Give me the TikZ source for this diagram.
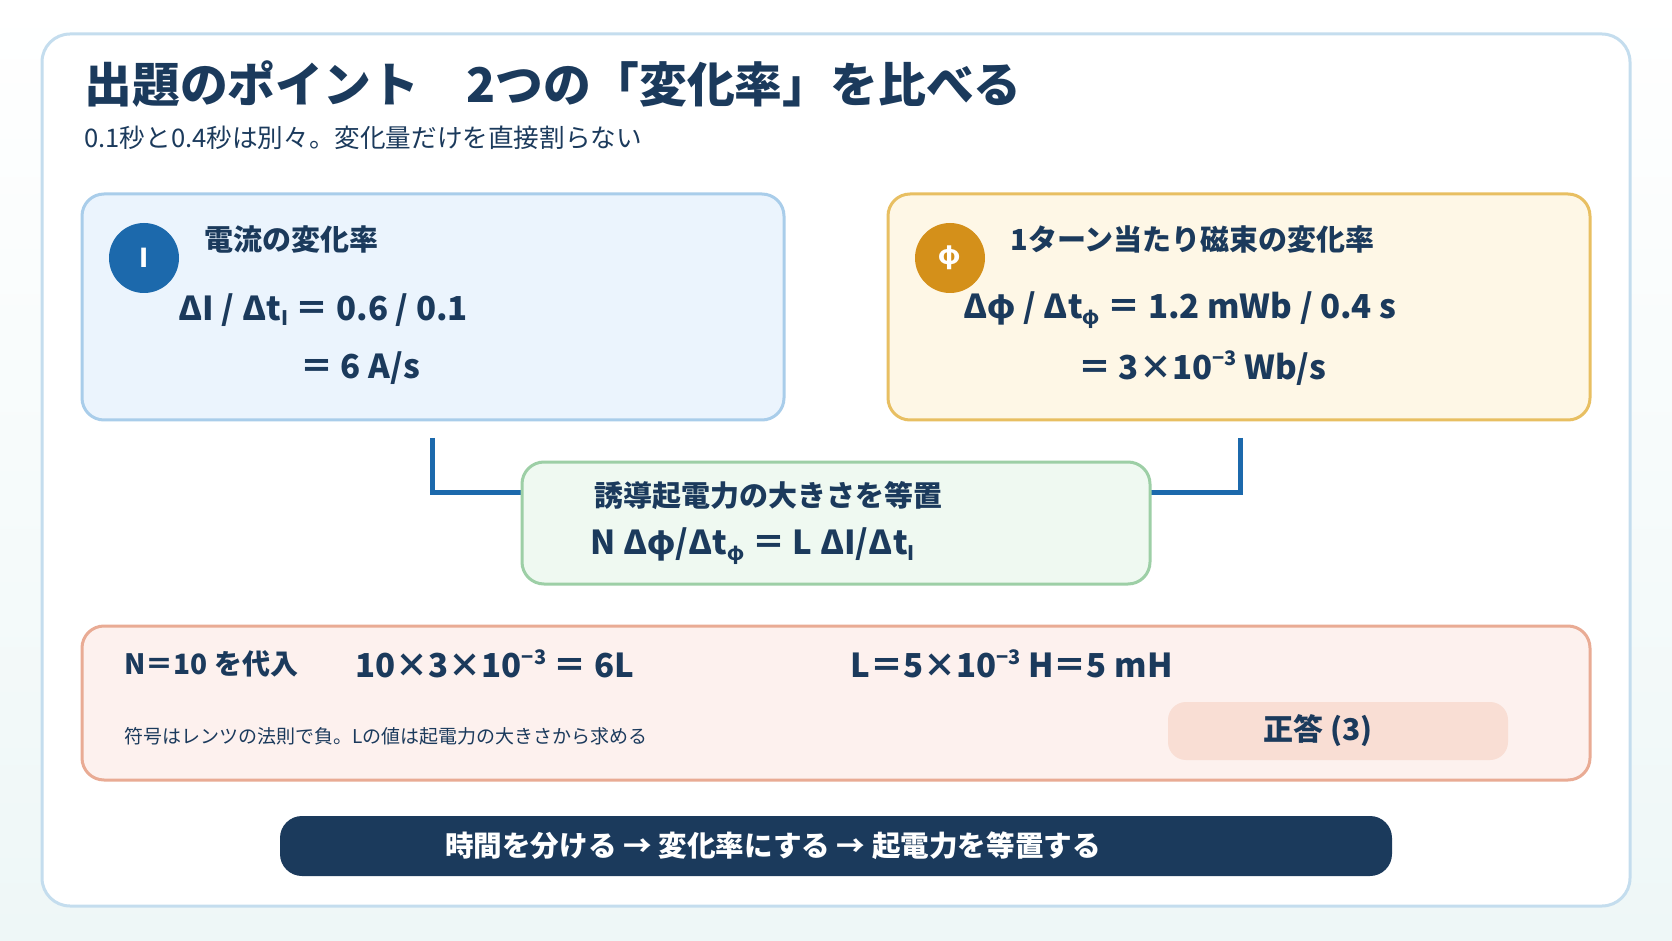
\documentclass[tikz,border=0pt]{standalone}
\usepackage{fontspec}
\setmainfont{Noto Sans CJK JP}
\usetikzlibrary{positioning}
\definecolor{navy}{HTML}{1B3A5C}
\definecolor{iblue}{HTML}{1C69AC}
\definecolor{phiorange}{HTML}{D4901A}
\definecolor{framedraw}{HTML}{C4DDEE}
\definecolor{bgbottom}{HTML}{EEF7F7}
\definecolor{idraw}{HTML}{A9CDEA}
\definecolor{ifill}{HTML}{EBF4FD}
\definecolor{pdraw}{HTML}{E8BF62}
\definecolor{pfill}{HTML}{FEF7E6}
\definecolor{edraw}{HTML}{9DCFA6}
\definecolor{efill}{HTML}{EFF9F1}
\definecolor{rdraw}{HTML}{E9AB94}
\definecolor{rfill}{HTML}{FDF1EE}
\definecolor{ansfill}{HTML}{F9DED4}
\newcommand{\lowsub}[1]{\raisebox{-0.3ex}{\fontsize{10}{10}\selectfont #1}}
\newcommand{\hisup}[1]{\raisebox{0.75ex}{\fontsize{10}{10}\selectfont #1}}
\begin{document}
\begin{tikzpicture}[x=0.5pt,y=-0.5pt,
  panel/.style={draw, line width=1.5pt, rounded corners=11pt},
  txt/.style={anchor=west, inner sep=0pt, text=navy, font=\bfseries},
  link/.style={draw=iblue, line width=2.5pt}]
\useasboundingbox (0,0) rectangle (1672,941);
\fill[top color=white, bottom color=bgbottom] (0,0) rectangle (1672,941);
\draw[panel, draw=framedraw, fill=white, rounded corners=14pt] (42,34) rectangle (1630,906);
% title
\node[txt, font=\fontsize{23.9}{28}\selectfont\bfseries] (title) at (84,84) {出題のポイント\quad 2つの「変化率」を比べる};
\node[txt, font=\fontsize{12.8}{15}\selectfont] (subtitle) at (84,138) {0.1秒と0.4秒は別々。変化量だけを直接割らない};
% current box
\draw[panel, draw=idraw, fill=ifill] (82,194) rectangle (784,420);
\node[circle, fill=iblue, minimum size=35pt, text=white, font=\fontsize{13}{15}\selectfont\bfseries] (ci) at (144,258) {I};
\node[txt, font=\fontsize{14.5}{17}\selectfont\bfseries] (ihead) at (204,240) {電流の変化率};
\node[txt, font=\fontsize{16.5}{20}\selectfont\bfseries] (irate) at (178,310) {ΔI / Δt\lowsub{I} ＝ 0.6 / 0.1};
\node[txt, font=\fontsize{16.5}{20}\selectfont\bfseries] (ires) at (300,368) {＝ 6 A/s};
% flux box
\draw[panel, draw=pdraw, fill=pfill] (888,194) rectangle (1590,420);
\node[circle, fill=phiorange, minimum size=35pt, text=white, font=\fontsize{13}{15}\selectfont\bfseries] (cphi) at (950,258) {φ};
\node[txt, font=\fontsize{14.5}{17}\selectfont\bfseries] (phead) at (1010,240) {1ターン当たり磁束の変化率};
\node[txt, font=\fontsize{16.5}{20}\selectfont\bfseries] (prate) at (963,310) {Δφ / Δt\lowsub{φ} ＝ 1.2 mWb / 0.4 s};
\node[txt, font=\fontsize{16.5}{20}\selectfont\bfseries] (pres) at (1078,368) {＝ 3×10\hisup{−3} Wb/s};
% equate box
\coordinate (lt) at (432,438);
\coordinate (lb) at (432,492);
\coordinate (rt) at (1240,438);
\coordinate (rb) at (1240,492);
\draw[link] (lt) -- (lb) -- (522,492);
\draw[link] (rt) -- (rb) -- (1150,492);
\draw[panel, draw=edraw, fill=efill] (522,462) rectangle (1150,584);
\node[txt, font=\fontsize{14.5}{17}\selectfont\bfseries] (ehead) at (594,496) {誘導起電力の大きさを等置};
\node[txt, font=\fontsize{16.5}{20}\selectfont\bfseries] (eq) at (590,546) {N Δφ/Δt\lowsub{φ} ＝ L ΔI/Δt\lowsub{I}};
% result box
\draw[panel, draw=rdraw, fill=rfill] (82,626) rectangle (1590,780);
\node[txt, font=\fontsize{14}{16}\selectfont\bfseries] (subst) at (124,664) {N＝10 を代入};
\node[txt, font=\fontsize{16.5}{20}\selectfont\bfseries] (calc) at (355,664) {10×3×10\hisup{−3} ＝ 6L};
\node[txt, font=\fontsize{16.5}{20}\selectfont\bfseries] (lval) at (850,664) {L＝5×10\hisup{−3} H＝5 mH};
\node[txt, font=\fontsize{9.5}{11}\selectfont] (note) at (124,736) {符号はレンツの法則で負。Lの値は起電力の大きさから求める};
\fill[ansfill, rounded corners=9pt] (1168,702) rectangle (1508,760);
\node[text=navy, font=\fontsize{15}{18}\selectfont\bfseries] (ans) at (1318,731) {正答 (3)};
% bottom bar
\fill[navy, rounded corners=11pt] (280,816) rectangle (1392,876);
\node[text=white, font=\fontsize{14.3}{16}\selectfont\bfseries] (flow) at (773,846) {時間を分ける → 変化率にする → 起電力を等置する};
\end{tikzpicture}
\end{document}
